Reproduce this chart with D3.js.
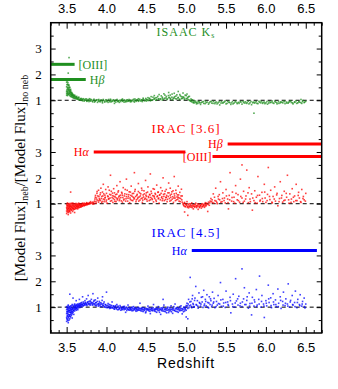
<!DOCTYPE html>
<html><head><meta charset="utf-8">
<script src="https://cdn.jsdelivr.net/npm/d3@7"></script>
<style>body{margin:0;background:#fff}svg{display:block}</style>
</head><body>
<svg id="c" width="338" height="389"></svg>
<script>
// ---- data ----
const xTicks = [3.5, 4.0, 4.5, 5.0, 5.5, 6.0, 6.5];
const yTickLabels = [1, 2, 3];
const panelNames = ["ISAAC K", "IRAC [3.6]", "IRAC [4.5]"];

const ksPoints = [[3.50,1.20],[3.50,1.35],[3.50,1.52],[3.50,1.70],[3.50,1.28],[3.51,1.44],[3.51,1.62],[3.51,1.80],[3.51,1.18],[3.51,1.33],[3.52,1.25],[3.52,1.48],[3.52,1.58],[3.52,1.38],[3.52,2.05],[3.53,1.22],[3.53,1.30],[3.53,1.42],[3.53,1.55],[3.53,2.65],[3.54,1.18],[3.54,1.27],[3.54,1.36],[3.54,1.50],[3.55,1.15],[3.55,1.22],[3.55,1.30],[3.55,1.42],[3.56,1.14],[3.56,1.20],[3.56,1.28],[3.57,1.12],[3.57,1.18],[3.57,1.26],[3.58,1.10],[3.58,1.16],[3.58,1.22],[3.59,1.09],[3.59,1.14],[3.60,1.08],[3.60,1.13],[3.60,1.20],[3.61,1.07],[3.62,1.06],[3.62,1.12],[3.63,1.05],[3.63,1.10],[3.64,1.04],[3.65,1.03],[3.65,1.09],[3.66,1.02],[3.67,1.06],[3.68,1.00],[3.68,1.04],[3.70,1.02],[3.70,0.98],[3.72,1.03],[3.72,0.97],[3.74,1.00],[3.75,1.05],[3.76,0.98],[3.78,1.01],[3.78,0.95],[3.80,0.99],[3.80,1.04],[3.82,0.97],[3.84,1.00],[3.85,0.93],[3.86,0.98],[3.88,1.02],[3.90,0.96],[3.90,1.00],[3.92,0.94],[3.94,0.99],[3.95,0.90],[3.96,1.03],[3.98,0.97],[4.00,0.95],[4.00,1.00],[4.02,0.92],[4.04,0.98],[4.05,1.04],[4.06,0.94],[4.08,0.99],[4.10,0.96],[4.10,0.88],[4.12,1.01],[4.14,0.95],[4.15,0.98],[4.16,0.92],[4.18,1.00],[4.20,0.96],[4.20,1.05],[4.22,0.93],[4.24,0.99],[4.25,0.95],[4.26,1.02],[4.28,0.97],[4.30,0.94],[4.30,1.00],[4.32,0.98],[4.34,1.04],[4.35,0.93],[4.36,0.99],[4.38,1.01],[4.40,0.96],[4.40,1.06],[4.42,0.99],[4.44,1.02],[4.45,0.95],[4.46,1.08],[4.48,1.00],[4.50,1.03],[4.50,0.97],[4.52,1.10],[4.52,1.01],[4.54,1.05],[4.55,0.98],[4.56,1.14],[4.58,1.02],[4.60,1.07],[4.60,1.18],[4.62,1.00],[4.63,1.10],[4.65,1.04],[4.66,1.22],[4.68,1.06],[4.70,1.12],[4.70,1.01],[4.72,1.25],[4.73,1.08],[4.75,1.15],[4.76,1.03],[4.78,1.30],[4.78,1.10],[4.80,1.06],[4.80,1.20],[4.82,1.12],[4.83,1.02],[4.85,1.27],[4.85,1.09],[4.87,1.16],[4.88,1.05],[4.90,1.34],[4.90,1.11],[4.92,1.22],[4.92,1.04],[4.94,1.14],[4.95,1.08],[4.96,1.28],[4.97,1.12],[4.98,1.03],[5.00,1.18],[5.00,1.07],[5.01,1.24],[5.02,1.10],[5.03,1.02],[5.04,1.15],[5.05,0.98],[5.06,1.05],[5.07,0.94],[5.08,1.00],[5.09,0.90],[5.10,0.96],[5.12,0.92],[5.13,0.86],[5.15,0.95],[5.17,0.90],[5.18,0.84],[5.20,0.93],[5.22,0.88],[5.24,0.97],[5.25,0.91],[5.28,0.85],[5.30,0.94],[5.32,0.89],[5.34,0.96],[5.36,0.87],[5.38,0.93],[5.40,0.90],[5.42,0.82],[5.44,0.95],[5.46,0.89],[5.48,0.93],[5.50,0.86],[5.52,0.96],[5.54,0.91],[5.56,0.84],[5.58,0.94],[5.60,0.89],[5.62,0.97],[5.64,0.87],[5.66,0.92],[5.68,0.95],[5.70,0.85],[5.72,0.91],[5.74,0.94],[5.76,0.88],[5.78,0.96],[5.80,0.90],[5.82,0.83],[5.84,0.93],[5.85,0.50],[5.86,0.89],[5.88,0.95],[5.90,0.87],[5.92,0.92],[5.94,0.96],[5.96,0.88],[5.98,0.93],[6.00,0.90],[6.02,0.85],[6.04,0.94],[6.06,0.91],[6.08,0.97],[6.10,0.88],[6.12,0.93],[6.14,0.86],[6.16,0.95],[6.18,0.90],[6.20,0.92],[6.22,0.97],[6.24,0.87],[6.26,0.93],[6.28,0.89],[6.30,0.95],[6.32,0.91],[6.34,0.86],[6.36,0.94],[6.38,0.98],[6.40,0.90],[6.42,0.93],[6.44,1.03],[6.45,0.88],[6.46,0.95],[6.48,0.91],[6.50,0.96]];

const ksPointsMore = [[3.505,1.40],[3.505,1.60],[3.507,1.25],[3.509,1.75],[3.512,1.50],[3.514,1.30],[3.516,1.68],[3.518,1.22],[3.523,1.42],[3.527,1.60],[3.531,1.35],[3.534,1.48],[3.537,1.26],[3.542,1.40],[3.546,1.32],[3.552,1.36],[3.558,1.24],[3.563,1.30],[3.568,1.20],[3.574,1.23],[3.583,1.19],[3.593,1.17],[3.605,1.16],[3.615,1.12],[3.627,1.15],[3.638,1.08],[3.652,1.12],[3.667,1.01],[3.683,1.07],[3.695,1.04],[3.708,1.06],[3.725,1.00],[3.737,1.05],[3.753,0.96],[3.768,1.02],[3.785,1.06],[3.797,0.97],[3.813,1.02],[3.827,0.94],[3.843,1.04],[3.857,0.97],[3.872,1.00],[3.887,0.92],[3.903,1.03],[3.917,0.97],[3.932,1.01],[3.947,0.95],[3.963,0.99],[3.978,0.93],[3.993,1.02],[4.013,0.97],[4.027,1.03],[4.043,0.94],[4.057,1.00],[4.073,0.96],[4.087,1.02],[4.103,0.98],[4.117,0.93],[4.133,1.03],[4.147,0.97],[4.163,1.00],[4.177,0.95],[4.193,1.02],[4.207,0.98],[4.223,1.01],[4.237,0.94],[4.253,1.00],[4.267,0.96],[4.283,1.03],[4.297,0.98],[4.313,0.95],[4.327,1.01],[4.343,0.97],[4.357,1.05],[4.373,0.96],[4.387,1.02],[4.403,0.99],[4.417,1.04],[4.433,0.97],[4.447,1.01],[4.463,1.04],[4.477,0.98],[4.493,1.07],[4.507,1.02],[4.523,0.99],[4.537,1.08],[4.553,1.03],[4.567,1.00],[4.583,1.12],[4.597,1.04],[4.613,1.09],[4.627,1.02],[4.643,1.15],[4.657,1.06],[4.673,1.03],[4.687,1.17],[4.703,1.07],[4.717,1.04],[4.733,1.20],[4.747,1.09],[4.763,1.05],[4.777,1.18],[4.793,1.11],[4.807,1.04],[4.823,1.24],[4.837,1.08],[4.853,1.14],[4.867,1.06],[4.883,1.21],[4.897,1.09],[4.913,1.03],[4.927,1.17],[4.943,1.06],[4.957,1.13],[4.973,1.07],[4.987,1.20],[5.013,1.05],[5.027,1.14],[5.043,1.00],[5.057,0.96],[5.073,1.02],[5.087,0.93],[5.103,0.90],[5.117,0.97],[5.133,0.91],[5.147,0.88],[5.163,0.94],[5.187,0.91],[5.213,0.95],[5.237,0.87],[5.263,0.93],[5.287,0.90],[5.313,0.96],[5.337,0.88],[5.363,0.92],[5.387,0.86],[5.413,0.94],[5.437,0.89],[5.463,0.92],[5.487,0.97],[5.513,0.88],[5.537,0.93],[5.563,0.90],[5.587,0.86],[5.613,0.93],[5.637,0.91],[5.663,0.88],[5.687,0.93],[5.713,0.96],[5.737,0.89],[5.763,0.92],[5.787,0.86],[5.813,0.95],[5.837,0.90],[5.863,0.93],[5.887,0.88],[5.913,0.96],[5.937,0.90],[5.963,0.92],[5.987,0.87],[6.013,0.95],[6.037,0.89],[6.063,0.93],[6.087,0.90],[6.113,0.96],[6.137,0.91],[6.163,0.88],[6.187,0.94],[6.213,0.90],[6.237,0.95],[6.263,0.89],[6.287,0.93],[6.313,0.97],[6.337,0.90],[6.363,0.92],[6.387,0.88],[6.413,0.95],[6.437,0.91],[6.463,0.99],[6.487,0.93]];

const irac36Points = [[3.50,0.72],[3.50,0.85],[3.50,0.98],[3.50,0.62],[3.51,0.78],[3.51,0.92],[3.51,1.03],[3.52,0.70],[3.52,0.82],[3.52,0.95],[3.52,0.58],[3.53,0.75],[3.53,0.88],[3.53,1.00],[3.54,0.72],[3.54,0.84],[3.54,0.96],[3.55,0.79],[3.55,0.90],[3.55,1.45],[3.55,0.64],[3.56,0.74],[3.56,0.86],[3.56,0.99],[3.57,0.81],[3.57,0.93],[3.58,0.76],[3.58,0.88],[3.58,1.02],[3.59,0.83],[3.59,0.95],[3.60,0.79],[3.60,0.90],[3.60,0.66],[3.61,0.85],[3.61,0.97],[3.62,0.82],[3.62,0.92],[3.63,0.87],[3.63,0.99],[3.64,0.84],[3.64,0.94],[3.65,0.89],[3.65,1.02],[3.66,0.86],[3.66,0.96],[3.67,0.91],[3.68,0.88],[3.68,0.98],[3.69,0.93],[3.70,0.90],[3.70,1.00],[3.71,0.95],[3.72,0.92],[3.72,1.02],[3.73,0.97],[3.74,0.94],[3.75,0.99],[3.75,1.04],[3.76,0.96],[3.77,1.01],[3.78,0.98],[3.79,1.03],[3.80,1.00],[3.80,1.08],[3.82,1.02],[3.83,0.98],[3.84,1.05],
[3.85,1.10],[3.86,1.25],[3.87,1.02],[3.88,1.40],[3.88,1.15],[3.89,1.30],[3.90,1.06],[3.90,1.52],[3.91,1.20],[3.92,1.35],[3.92,1.12],[3.93,1.60],[3.94,1.04],[3.94,1.28],[3.95,1.45],[3.96,1.18],[3.96,1.75],[3.97,1.08],[3.98,1.33],[3.98,1.22],[3.99,1.55],[4.00,1.14],[4.00,1.40],[4.01,1.02],[4.02,1.27],[4.02,1.65],[4.03,1.19],[4.04,1.36],[4.05,1.10],[4.05,2.10],[4.06,1.48],[4.07,1.24],[4.08,1.05],[4.08,1.31],[4.09,1.58],[4.10,1.16],[4.10,1.42],[4.11,1.26],[4.12,1.08],[4.13,1.37],[4.13,1.70],[4.14,1.20],[4.15,1.50],[4.16,1.12],[4.16,1.30],[4.17,1.85],[4.18,1.24],[4.19,1.44],[4.20,1.06],[4.20,1.33],[4.21,1.62],[4.22,1.18],[4.23,1.38],[4.24,1.10],[4.25,1.27],[4.25,1.95],[4.26,1.52],[4.27,1.21],[4.28,1.35],[4.29,1.04],[4.30,1.45],[4.30,1.16],[4.31,1.68],[4.32,1.29],[4.33,1.12],[4.34,1.40],[4.35,1.22],[4.35,2.20],[4.36,1.55],[4.37,1.08],[4.38,1.32],[4.39,1.19],[4.40,1.47],[4.40,1.78],[4.41,1.26],[4.42,1.14],[4.43,1.38],[4.44,1.60],[4.45,1.22],[4.45,1.05],[4.46,1.34],[4.47,1.50],[4.48,1.17],[4.49,1.90],[4.50,1.28],[4.50,1.42],[4.51,1.10],[4.52,1.65],[4.53,1.24],[4.54,1.36],[4.55,1.15],[4.55,2.15],[4.56,1.48],[4.57,1.20],[4.58,1.31],[4.59,1.07],[4.60,1.56],[4.60,1.26],[4.61,1.40],[4.62,1.14],[4.63,1.72],[4.64,1.30],[4.65,1.19],[4.65,1.45],[4.66,1.02],[4.67,1.35],[4.68,1.62],[4.69,1.23],[4.70,1.12],[4.70,1.50],[4.71,2.00],[4.72,1.28],[4.73,1.38],[4.74,1.16],[4.75,1.55],[4.75,1.25],[4.76,1.08],[4.77,1.42],[4.78,1.80],[4.79,1.20],[4.80,1.33],[4.80,1.60],[4.81,1.13],[4.82,1.46],[4.83,1.27],[4.84,1.05],[4.85,1.38],[4.85,2.05],[4.86,1.22],[4.87,1.52],[4.88,1.15],[4.89,1.34],[4.90,1.68],[4.90,1.25],[4.91,1.10],[4.92,1.44],[4.93,1.20],[4.94,1.56],[4.95,1.30],[4.95,1.06],
[4.96,1.00],[4.97,0.92],[4.98,1.05],[4.98,0.68],[4.99,0.88],[5.00,0.97],[5.01,1.08],[5.02,0.90],[5.02,0.55],[5.03,0.84],[5.04,1.00],[5.05,0.94],[5.06,0.87],[5.07,1.03],[5.08,0.91],[5.09,0.80],[5.10,0.96],[5.11,0.89],[5.12,1.02],[5.13,0.85],[5.14,0.93],[5.15,0.78],[5.16,0.98],[5.17,0.88],[5.18,0.94],[5.19,0.83],[5.20,1.00],[5.21,0.90],[5.22,0.95],[5.23,0.86],[5.24,1.04],[5.25,0.92],[5.26,0.99],[5.27,0.70],[5.28,1.06],[5.29,0.94],[5.30,1.10],
[5.31,1.20],[5.33,1.05],[5.34,1.38],[5.36,1.12],[5.37,1.60],[5.39,1.00],[5.40,1.28],[5.42,1.15],[5.43,1.85],[5.45,1.08],[5.46,1.42],[5.48,1.22],[5.49,1.03],[5.50,1.55],[5.52,1.18],[5.53,0.80],[5.54,1.32],[5.55,2.20],[5.57,1.10],[5.58,1.45],[5.60,1.25],[5.61,1.02],[5.62,1.70],[5.64,1.15],[5.65,1.35],[5.67,1.06],[5.68,1.95],[5.70,2.50],[5.70,1.22],[5.72,1.48],[5.73,1.10],[5.75,1.30],[5.76,2.30],[5.78,1.04],[5.79,1.62],[5.80,1.18],[5.82,1.38],[5.83,0.75],[5.85,1.12],[5.86,1.50],[5.88,1.25],[5.89,1.02],[5.90,2.05],[5.92,1.33],[5.93,1.14],[5.95,1.44],[5.96,1.08],[5.98,1.75],[5.99,1.22],[6.00,1.05],[6.02,1.36],[6.03,2.40],[6.05,1.16],[6.06,1.52],[6.08,1.03],[6.09,1.28],[6.11,1.65],[6.12,1.10],[6.14,1.40],[6.15,0.92],[6.17,1.20],[6.18,1.85],[6.20,1.32],[6.21,1.06],[6.23,1.48],[6.24,1.14],[6.26,1.25],[6.27,2.10],[6.29,1.02],[6.30,1.38],[6.32,1.18],[6.33,1.58],[6.35,1.08],[6.36,1.30],[6.38,1.75],[6.39,1.12],[6.41,1.44],[6.42,1.22],[6.44,1.05],[6.45,1.55],[6.47,1.28],[6.48,1.15],[6.50,1.40]];

const irac36PointsMore = [[3.503,0.80],[3.505,0.92],[3.508,0.68],[3.512,0.87],[3.515,0.75],[3.518,0.99],[3.522,0.83],[3.525,0.66],[3.528,0.91],[3.532,0.79],[3.535,0.94],[3.538,0.70],[3.542,0.88],[3.545,1.01],[3.548,0.81],[3.553,0.94],[3.557,0.77],[3.562,0.89],[3.566,1.02],[3.571,0.84],[3.575,0.70],[3.578,0.96],[3.583,0.82],[3.587,0.91],[3.592,0.78],[3.596,1.00],[3.604,0.87],[3.608,0.94],[3.614,0.81],[3.618,1.01],[3.624,0.89],[3.628,0.96],[3.634,0.90],[3.638,0.80],[3.644,0.98],[3.648,0.91],[3.654,0.85],[3.658,0.95],[3.664,1.00],[3.672,0.94],[3.676,0.87],[3.684,0.96],[3.692,0.91],[3.698,1.02],[3.706,0.95],[3.714,0.99],[3.722,0.94],[3.735,1.00],[3.745,0.97],[3.755,1.02],[3.765,0.99],[3.785,1.04],[3.805,1.03],[3.825,1.06],[3.845,1.00],
[3.855,1.18],[3.862,1.32],[3.868,1.08],[3.875,1.22],[3.882,1.47],[3.895,1.12],[3.905,1.28],[3.915,1.15],[3.925,1.42],[3.935,1.20],[3.945,1.09],[3.955,1.30],[3.965,1.38],[3.975,1.15],[3.985,1.25],[3.995,1.08],[4.015,1.30],[4.025,1.18],[4.035,1.52],[4.045,1.22],[4.055,1.34],[4.065,1.12],[4.075,1.41],[4.085,1.20],[4.095,1.28],[4.105,1.09],[4.115,1.35],[4.125,1.22],[4.135,1.15],[4.145,1.45],[4.155,1.26],[4.165,1.18],[4.175,1.33],[4.185,1.11],[4.195,1.40],[4.205,1.24],[4.215,1.14],[4.225,1.30],[4.235,1.55],[4.245,1.19],[4.255,1.36],[4.265,1.10],[4.275,1.28],[4.285,1.46],[4.295,1.22],[4.305,1.32],[4.315,1.13],[4.325,1.39],[4.335,1.25],[4.345,1.18],[4.355,1.48],[4.365,1.28],[4.375,1.15],[4.385,1.36],[4.395,1.24],[4.405,1.10],[4.415,1.42],[4.425,1.30],[4.435,1.20],[4.445,1.52],[4.455,1.14],[4.465,1.26],[4.475,1.38],[4.485,1.21],[4.495,1.33],[4.505,1.17],[4.515,1.45],[4.525,1.28],[4.535,1.12],[4.545,1.34],[4.555,1.24],[4.565,1.40],[4.575,1.16],[4.585,1.58],[4.595,1.30],[4.605,1.20],[4.615,1.36],[4.625,1.09],[4.635,1.27],[4.645,1.44],[4.655,1.22],[4.665,1.33],[4.675,1.15],[4.685,1.40],[4.695,1.27],[4.705,1.19],[4.715,1.36],[4.725,1.12],[4.735,1.48],[4.745,1.24],[4.755,1.32],[4.765,1.17],[4.775,1.28],[4.785,1.42],[4.795,1.10],[4.805,1.25],[4.815,1.37],[4.825,1.18],[4.835,1.50],[4.845,1.22],[4.855,1.30],[4.865,1.12],[4.875,1.40],[4.885,1.26],[4.895,1.18],[4.905,1.34],[4.915,1.22],[4.925,1.08],[4.935,1.30],[4.945,1.15],
[4.965,0.96],[4.975,1.02],[4.985,0.90],[4.995,0.99],[5.005,0.93],[5.015,0.86],[5.025,0.98],[5.035,0.91],[5.045,0.88],[5.055,0.99],[5.065,0.92],[5.075,0.85],[5.085,0.96],[5.095,0.90],[5.105,0.87],[5.115,0.97],[5.125,0.92],[5.135,0.89],[5.145,0.99],[5.155,0.91],[5.165,0.85],[5.175,0.95],[5.185,0.90],[5.195,0.97],[5.205,0.88],[5.215,0.94],[5.225,0.99],[5.235,0.91],[5.245,0.96],[5.255,1.02],[5.275,0.97],[5.295,1.03],
[5.315,1.08],[5.325,1.15],[5.345,1.02],[5.355,1.25],[5.375,1.10],[5.385,1.05],[5.405,1.18],[5.415,1.35],[5.435,1.06],[5.455,1.20],[5.475,1.12],[5.505,1.30],[5.525,1.04],[5.545,1.15],[5.575,1.24],[5.595,1.08],[5.625,1.40],[5.655,1.12],[5.685,1.28],[5.715,1.05],[5.745,1.18],[5.775,1.42],[5.805,1.08],[5.835,1.22],[5.865,1.04],[5.895,1.32],[5.925,1.10],[5.955,1.20],[5.985,1.45],[6.015,1.12],[6.045,1.28],[6.075,1.06],[6.105,1.18],[6.135,1.34],[6.165,1.08],[6.195,1.22],[6.225,1.12],[6.255,1.40],[6.285,1.15],[6.315,1.05],[6.345,1.25],[6.375,1.12],[6.405,1.32],[6.435,1.08],[6.465,1.20],[6.495,1.10]];

const irac45Points = [[3.50,0.45],[3.50,0.60],[3.50,0.75],[3.50,0.90],[3.50,1.02],[3.51,0.52],[3.51,0.68],[3.51,0.82],[3.51,0.96],[3.52,0.40],[3.52,0.58],[3.52,0.72],[3.52,0.88],[3.52,1.08],[3.53,0.50],[3.53,0.65],[3.53,0.80],[3.53,0.94],[3.54,0.55],[3.54,0.70],[3.54,0.86],[3.54,1.00],[3.54,1.50],[3.55,0.62],[3.55,0.78],[3.55,0.92],[3.55,1.05],[3.56,0.68],[3.56,0.84],[3.56,0.98],[3.57,0.58],[3.57,0.74],[3.57,0.90],[3.57,1.10],[3.58,0.80],[3.58,0.95],[3.58,1.35],[3.59,0.72],[3.59,0.88],[3.59,1.02],[3.60,0.85],[3.60,0.98],[3.60,1.12],[3.61,0.92],[3.61,1.05],[3.62,0.88],[3.62,1.00],[3.62,1.25],[3.63,0.95],[3.63,1.08],[3.64,1.02],[3.64,0.90],[3.65,1.10],[3.65,0.97],[3.66,1.05],[3.66,1.30],[3.67,0.99],[3.67,1.12],[3.68,1.07],[3.69,1.02],[3.69,1.18],[3.70,1.10],[3.70,1.40],[3.71,1.05],[3.71,1.20],[3.72,1.13],[3.73,1.08],[3.73,1.25],[3.74,1.15],[3.75,1.10],[3.75,1.32],[3.76,1.18],[3.77,1.12],[3.77,1.45],[3.78,1.22],[3.79,1.14],[3.80,1.08],[3.80,1.20],[3.81,1.30],[3.82,1.16],[3.83,1.10],[3.83,1.52],[3.84,1.22],[3.85,1.13],[3.86,1.06],[3.86,1.28],[3.87,1.18],[3.88,1.10],[3.89,1.35],[3.90,1.14],[3.90,1.04],[3.91,1.22],[3.92,1.09],[3.93,1.17],[3.94,1.02],[3.95,1.12],[3.95,1.40],[3.96,1.06],[3.97,1.20],[3.98,1.00],[3.99,1.10],[4.00,1.05],[4.00,1.58],[4.01,0.98],[4.02,1.14],[4.03,1.03],[4.04,0.95],[4.05,1.08],[4.06,1.00],[4.07,1.20],[4.08,0.97],[4.09,1.05],[4.10,0.92],[4.11,1.02],[4.12,0.96],[4.13,1.10],[4.14,0.90],[4.15,1.00],[4.16,0.94],[4.17,1.06],[4.18,0.88],[4.19,0.98],[4.20,0.93],[4.21,1.02],[4.22,0.90],[4.23,0.96],[4.24,0.80],[4.25,1.00],[4.26,0.92],[4.27,1.08],[4.28,0.89],[4.29,0.95],[4.30,0.91],[4.31,0.98],[4.32,0.86],[4.33,0.94],[4.34,1.02],[4.35,0.90],[4.36,0.96],[4.37,0.84],[4.38,0.92],[4.39,0.99],[4.40,0.88],[4.41,0.94],[4.42,1.15],[4.43,0.86],[4.44,0.92],[4.45,0.97],[4.46,0.83],[4.47,0.90],[4.48,0.95],[4.49,0.78],[4.50,0.89],[4.51,0.93],[4.52,1.04],[4.53,0.86],[4.54,0.91],[4.55,0.75],[4.56,0.96],[4.57,0.88],[4.58,0.93],[4.59,1.10],[4.60,0.85],[4.61,0.90],[4.62,0.95],[4.63,0.80],[4.64,0.92],[4.65,1.02],[4.66,0.87],[4.67,0.93],[4.68,0.72],[4.69,0.90],[4.70,0.96],[4.71,0.85],[4.71,1.30],[4.72,1.08],[4.73,0.91],[4.74,0.82],[4.75,0.94],[4.76,0.88],[4.77,1.00],[4.78,0.79],[4.79,0.92],[4.80,0.86],[4.81,1.05],[4.82,0.90],[4.83,0.76],[4.84,0.95],[4.85,0.88],[4.86,1.12],[4.87,0.84],[4.88,0.93],[4.89,0.98],[4.90,0.80],[4.91,0.91],[4.92,1.02],[4.93,0.87],[4.94,0.95],[4.95,0.74],[4.96,0.90],[4.97,1.00],[4.98,0.85],[4.99,0.94],[5.00,1.06],[5.00,0.88],[5.00,0.62],[5.02,0.55],
[5.01,1.15],[5.02,0.95],[5.03,1.30],[5.04,1.05],[5.05,2.15],[5.06,1.22],[5.07,0.98],[5.08,1.45],[5.09,1.10],[5.10,1.02],[5.11,1.35],[5.12,1.80],[5.13,1.08],[5.14,1.25],[5.15,0.96],[5.16,1.55],[5.17,1.15],[5.18,1.04],[5.19,1.38],[5.20,1.20],[5.21,0.99],[5.22,1.65],[5.23,1.12],[5.24,1.30],[5.25,1.05],[5.26,1.48],[5.27,1.18],[5.28,0.97],[5.29,1.40],[5.30,1.10],[5.31,1.25],[5.32,1.02],[5.33,1.58],[5.34,1.15],[5.35,1.34],[5.36,0.98],[5.38,1.22],[5.39,1.08],[5.40,1.45],[5.42,1.12],[5.43,1.95],[5.44,1.03],[5.46,1.30],[5.47,1.16],[5.49,0.99],[5.50,1.62],[5.52,1.20],[5.53,1.06],[5.55,1.38],[5.56,0.78],[5.58,1.12],[5.59,1.50],[5.61,1.00],[5.62,2.10],[5.63,1.24],[5.65,1.08],[5.66,1.42],[5.68,1.15],[5.70,2.48],[5.70,1.02],[5.72,1.32],[5.73,1.75],[5.75,1.10],[5.76,1.26],[5.78,0.96],[5.79,1.55],[5.80,1.14],[5.82,0.70],[5.83,1.38],[5.85,1.04],[5.86,1.20],[5.88,1.68],[5.89,1.08],[5.91,1.30],[5.92,2.20],[5.94,1.00],[5.95,1.45],[5.97,1.12],[5.98,0.60],[6.00,1.25],[6.01,1.05],[6.03,1.85],[6.04,1.18],[6.06,1.36],[6.07,0.98],[6.09,1.52],[6.10,1.10],[6.12,1.28],[6.13,1.02],[6.15,1.70],[6.16,1.15],[6.18,1.40],[6.19,0.95],[6.21,1.22],[6.22,1.58],[6.24,1.06],[6.25,1.32],[6.27,1.12],[6.28,1.90],[6.30,1.00],[6.31,1.26],[6.33,1.45],[6.34,1.08],[6.36,1.18],[6.37,1.62],[6.39,0.98],[6.40,1.30],[6.42,1.10],[6.43,1.48],[6.45,1.04],[6.46,1.22],[6.48,1.35],[6.49,0.97],[6.50,1.12]];

const irac45PointsMore = [[3.503,0.55],[3.504,0.82],[3.506,0.98],[3.508,0.65],[3.512,0.76],[3.514,0.90],[3.516,0.48],[3.518,1.04],[3.523,0.62],[3.525,0.84],[3.527,0.97],[3.532,0.70],[3.535,0.88],[3.537,1.02],[3.543,0.64],[3.545,0.80],[3.547,0.94],[3.553,0.72],[3.555,0.86],[3.557,1.00],[3.563,0.78],[3.565,0.92],[3.567,1.06],[3.573,0.82],[3.575,0.96],[3.583,0.86],[3.585,1.04],[3.593,0.92],[3.595,1.08],[3.605,0.95],[3.608,1.04],[3.615,0.98],[3.618,1.10],[3.625,0.94],[3.628,1.05],[3.635,1.00],[3.638,1.12],[3.645,1.06],[3.655,1.02],[3.658,1.14],[3.665,1.08],[3.675,1.04],[3.678,1.16],[3.685,1.10],[3.695,1.12],[3.705,1.06],[3.715,1.15],[3.725,1.09],[3.735,1.18],[3.745,1.12],[3.755,1.06],[3.765,1.20],[3.775,1.14],[3.785,1.09],[3.795,1.24],[3.805,1.13],[3.815,1.18],[3.825,1.08],[3.835,1.15],[3.845,1.26],[3.855,1.10],[3.865,1.17],[3.875,1.05],[3.885,1.22],[3.895,1.12],[3.905,1.08],[3.915,1.16],[3.925,1.03],[3.935,1.12],[3.945,1.26],[3.955,1.06],[3.965,1.14],[3.975,1.02],[3.985,1.09],[3.995,0.99],[4.015,1.07],[4.025,0.99],[4.035,1.10],[4.045,1.01],[4.055,0.96],[4.065,1.06],[4.075,0.98],[4.085,1.03],[4.095,0.94],[4.105,1.00],[4.115,1.06],[4.125,0.93],[4.135,0.99],[4.145,1.04],[4.155,0.91],[4.165,0.97],[4.175,1.01],[4.185,0.94],[4.195,0.90],[4.205,0.99],[4.215,0.95],[4.225,1.03],[4.235,0.92],[4.245,0.97],[4.255,0.87],[4.265,0.96],[4.275,0.91],[4.285,0.99],[4.295,0.88],[4.305,0.95],[4.315,0.90],[4.325,1.00],[4.335,0.87],[4.345,0.93],[4.355,0.97],[4.365,0.89],[4.375,0.95],[4.385,0.86],[4.395,0.92],[4.405,0.98],[4.415,0.88],[4.425,0.93],[4.435,0.96],[4.445,0.85],[4.455,0.91],[4.465,0.98],[4.475,0.87],[4.485,0.93],[4.495,0.82],[4.505,0.95],[4.515,0.89],[4.525,0.92],[4.535,0.97],[4.545,0.84],[4.555,0.90],[4.565,0.94],[4.575,0.86],[4.585,0.98],[4.595,0.89],[4.605,0.93],[4.615,0.83],[4.625,0.91],[4.635,0.96],[4.645,0.87],[4.655,0.94],[4.665,0.80],[4.675,0.90],[4.685,0.97],[4.695,0.86],[4.705,0.92],[4.715,0.99],[4.725,0.84],[4.735,0.94],[4.745,0.89],[4.755,0.78],[4.765,0.96],[4.775,0.90],[4.785,0.85],[4.795,0.98],[4.805,0.92],[4.815,0.82],[4.825,0.95],[4.835,0.89],[4.845,1.02],[4.855,0.86],[4.865,0.93],[4.875,0.97],[4.885,0.83],[4.895,0.91],[4.905,0.96],[4.915,0.86],[4.925,0.93],[4.935,1.05],[4.945,0.88],[4.955,0.94],[4.965,0.82],[4.975,0.97],[4.985,0.91],[4.995,1.00],
[5.015,1.05],[5.025,1.12],[5.035,0.98],[5.045,1.20],[5.055,1.08],[5.065,1.02],[5.075,1.32],[5.085,1.14],[5.095,1.00],[5.105,1.26],[5.125,1.10],[5.145,1.04],[5.165,1.18],[5.185,1.12],[5.205,1.40],[5.225,1.06],[5.245,1.22],[5.265,1.00],[5.285,1.16],[5.305,1.32],[5.325,1.08],[5.345,1.20],[5.375,1.02],[5.405,1.14],[5.435,1.28],[5.465,1.04],[5.495,1.18],[5.525,1.10],[5.555,1.25],[5.585,1.02],[5.615,1.16],[5.645,1.32],[5.675,1.05],[5.705,1.20],[5.735,1.10],[5.765,1.40],[5.795,1.04],[5.825,1.15],[5.855,1.28],[5.885,1.02],[5.915,1.12],[5.945,1.22],[5.975,1.04],[6.005,1.15],[6.035,1.32],[6.065,1.06],[6.095,1.20],[6.125,1.10],[6.155,1.02],[6.185,1.26],[6.215,1.08],[6.245,1.15],[6.275,1.04],[6.305,1.20],[6.335,1.10],[6.365,1.02],[6.395,1.18],[6.425,1.06],[6.455,1.12],[6.485,1.02]];

// emission-line redshift ranges: [panel index, label, zStart, zEnd, level]
const lineRanges = [
  [0, "[OIII]", 3.30, 3.60, 2.39],
  [0, "Hβ",     3.30, 3.74, 1.80],
  [1, "Hα",     3.84, 4.99, 3.00],
  [1, "Hβ",     5.52, 6.70, 3.31],
  [1, "[OIII]", 5.33, 6.70, 2.83],
  [2, "Hα",     5.07, 6.64, 3.19]
];

// ---- drawing ----
const svg = d3.select("#c");
const L = 50.7, R = 321.7, T = 22.7, B = 333;
const x = d3.scaleLinear().domain([3.3, 6.7]).range([L, R]);
const y = d3.scaleLinear().domain([0, 12]).range([B, T]);
const offsets = [8, 4, 0];
const colors = ["#1f8f1f", "#ff0000", "#0000ff"];
const series = [ksPoints.concat(ksPointsMore), irac36Points.concat(irac36PointsMore), irac45Points.concat(irac45PointsMore)];

// dashed unity lines
offsets.forEach(o => {
  svg.append("line").attr("x1", L).attr("x2", R).attr("y1", y(o + 1)).attr("y2", y(o + 1))
    .attr("stroke", "#000").attr("stroke-width", 1).attr("stroke-dasharray", "4,3");
});

// points
series.forEach((pts, i) => {
  svg.append("g").selectAll("rect").data(pts).join("rect")
    .attr("x", d => x(d[0]) - 0.8).attr("y", d => y(d[1] + offsets[i]) - 0.8)
    .attr("width", 1.6).attr("height", 1.6)
    .attr("fill", colors[i]).attr("fill-opacity", 0.75);
});

// emission line bars + labels
lineRanges.forEach(([p, lab, z0, z1, v]) => {
  const yy = y(v + offsets[p]);
  svg.append("line").attr("x1", x(z0)).attr("x2", x(z1)).attr("y1", yy).attr("y2", yy)
    .attr("stroke", colors[p]).attr("stroke-width", 3);
  const left = z0 <= 3.3;
  const t = svg.append("text")
    .attr("x", left ? x(z1) + 4 : x(z0) - (lab === "[OIII]" ? 1 : 5))
    .attr("y", yy).attr("dy", "0.35em")
    .attr("text-anchor", left ? "start" : "end")
    .attr("font-family", "Liberation Serif, Times New Roman, serif")
    .attr("font-size", 12).attr("fill", colors[p]);
  if (lab === "Hβ" || lab === "Hα") {
    t.append("tspan").text("H");
    t.append("tspan").attr("font-style", "italic").text(lab.slice(1));
  } else t.text(lab);
});

// panel labels
const plY = [36, 133, 237];
panelNames.forEach((n, i) => {
  const t = svg.append("text").attr("x", 186).attr("y", plY[i]).attr("text-anchor", "middle")
    .attr("font-family", "Liberation Serif, Times New Roman, serif")
    .attr("font-size", i === 0 ? 12 : 13).attr("letter-spacing", 1).attr("fill", colors[i]);
  t.append("tspan").text(n);
  if (i === 0) t.append("tspan").attr("font-size", 8).attr("dy", 2).text("s");
});

// axes
const fontSans = "Liberation Sans, Arial, Helvetica, sans-serif";
const minorX = d3.range(33, 68).map(v => v / 10).filter(v => !xTicks.some(t => Math.abs(t - v) < 1e-6));
function styleAxis(g) { g.select(".domain").remove(); g.selectAll("line").attr("stroke", "#000").attr("stroke-width", 1); }
const xb = svg.append("g").attr("transform", `translate(0,${B})`)
  .call(d3.axisBottom(x).tickValues(xTicks).tickSize(-6).tickPadding(10).tickFormat(d3.format(".1f")));
const xt = svg.append("g").attr("transform", `translate(0,${T})`)
  .call(d3.axisTop(x).tickValues(xTicks).tickSize(-6).tickPadding(10).tickFormat(d3.format(".1f")));
svg.append("g").attr("transform", `translate(0,${B})`).call(d3.axisBottom(x).tickValues(minorX).tickSize(-3).tickFormat("")).call(styleAxis);
svg.append("g").attr("transform", `translate(0,${T})`).call(d3.axisTop(x).tickValues(minorX).tickSize(-3).tickFormat("")).call(styleAxis);
[xb, xt].forEach(g => { styleAxis(g); g.selectAll("text").attr("font-family", fontSans).attr("font-size", 13).attr("fill", "#000"); });

const allY = d3.range(1, 24).map(v => v / 2);
const majorY = allY.filter(v => yTickLabels.includes(v % 4));
const minorY = allY.filter(v => !majorY.includes(v));
const yl = svg.append("g").attr("transform", `translate(${L},0)`)
  .call(d3.axisLeft(y).tickValues(majorY).tickSize(-5).tickPadding(9).tickFormat(v => v % 4));
svg.append("g").attr("transform", `translate(${R},0)`).call(d3.axisRight(y).tickValues(majorY).tickSize(-5).tickFormat("")).call(styleAxis);
svg.append("g").attr("transform", `translate(${L},0)`).call(d3.axisLeft(y).tickValues(minorY).tickSize(-3).tickFormat("")).call(styleAxis);
svg.append("g").attr("transform", `translate(${R},0)`).call(d3.axisRight(y).tickValues(minorY).tickSize(-3).tickFormat("")).call(styleAxis);
styleAxis(yl);
yl.selectAll("text").attr("font-family", "Liberation Serif, Times New Roman, serif").attr("font-size", 13).attr("fill", "#000");

// frame
svg.append("rect").attr("x", L).attr("y", T).attr("width", R - L).attr("height", B - T)
  .attr("fill", "none").attr("stroke", "#000").attr("stroke-width", 1.5);

// axis titles
svg.append("text").attr("x", 186).attr("y", 368).attr("text-anchor", "middle")
  .attr("font-family", fontSans).attr("font-size", 14).attr("letter-spacing", 0.8).text("Redshift");

const yt = svg.append("text").attr("transform", "translate(25,178) rotate(-90)").attr("text-anchor", "middle")
  .attr("font-family", "Liberation Serif, Times New Roman, serif").attr("font-size", 15);
yt.append("tspan").text("[Model Flux]");
yt.append("tspan").attr("font-size", 10).attr("dy", 3).text("neb");
yt.append("tspan").attr("dy", -3).text("/[Model Flux]");
yt.append("tspan").attr("font-size", 10).attr("dy", 3).text("no neb");
</script>
</body></html>
